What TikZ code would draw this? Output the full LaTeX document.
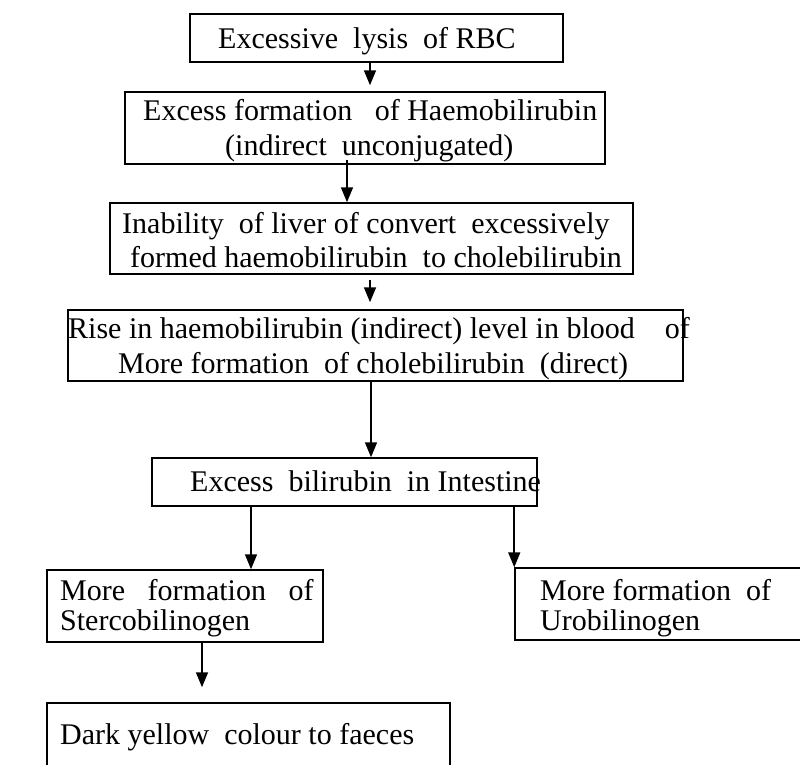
\documentclass[tikz,border=0pt]{standalone}
\usepackage{fontspec}
\setmainfont{Liberation Serif}
\usetikzlibrary{arrows.meta}
\begin{document}
\begin{tikzpicture}[x=1pt,y=-1pt,
		box/.style={draw,line width=1.5pt,inner sep=0pt},
		txt/.style={anchor=base west,inner sep=0pt,font=\fontsize{30}{35}\selectfont},
		arr/.style={line width=1.6pt,-{Triangle[width=12pt,length=15pt]}}]
	\useasboundingbox (0,0) rectangle (800,764);
	\node[box,minimum width=373pt,minimum height=48pt] (b1) at (376.5,38) {};
	\node[box,minimum width=480pt,minimum height=72pt] (b2) at (365,128) {};
	\node[box,minimum width=523pt,minimum height=71pt] (b3) at (371.5,238.5) {};
	\node[box,minimum width=615pt,minimum height=71pt] (b4) at (375.5,345.5) {};
	\node[box,minimum width=385pt,minimum height=48pt] (b5) at (344.5,482) {};
	\node[box,minimum width=276pt,minimum height=72pt] (b6) at (185,606) {};
	\node[box,minimum width=316pt,minimum height=72pt] (b7) at (673,604) {};
	\node[box,minimum width=403pt,minimum height=70pt] (b8) at (248.5,738) {};
	\node[txt] (t1) at (218,48) {Excessive\ \ lysis\ \ of RBC};
	\node[txt] (t2a) at (143,120) {Excess formation\ \ \ of Haemobilirubin};
	\node[txt] (t2b) at (225,155) {(indirect\ \ unconjugated)};
	\node[txt] (t3a) at (122,233) {Inability\ \ of liver of convert\ \ excessively};
	\node[txt] (t3b) at (130,267) {formed haemobilirubin\ \ to cholebilirubin};
	\node[txt] (t4a) at (68,338) {Rise\ in haemobilirubin (indirect)\ level in blood\ \ \ \ of};
	\node[txt] (t4b) at (118,373) {More formation\ \ of cholebilirubin\ \ (direct)};
	\node[txt] (t5) at (190,491) {Excess\ \ bilirubin\ \ in Intestine};
	\node[txt] (t6a) at (60,600) {More\ \ \ formation\ \ \ of};
	\node[txt] (t6b) at (60,630) {Stercobilinogen};
	\node[txt] (t7a) at (540,600) {More formation\ \ of};
	\node[txt] (t7b) at (540,630) {Urobilinogen};
	\node[txt] (t8) at (60,744) {Dark yellow\ \ colour\ to faeces};
	\draw[arr,shorten >=6pt] (b1.south -| 370,0) -- (b2.north -| 370,0);
	\draw[arr,shorten <=-5pt] (b2.south -| 347,0) -- (b3.north -| 347,0);
	\draw[arr,shorten <=5pt,shorten >=7pt] (b3.south -| 370,0) -- (b4.north -| 370,0);
	\draw[arr] (b4.south -| 371,0) -- (b5.north -| 371,0);
	\draw[arr] (b5.south -| 251,0) -- (b6.north -| 251,0);
	\draw[arr] (b5.south -| b7.west) -- (b7.north west);
	\draw[arr,shorten >=15pt] (b6.south -| 202,0) -- (b8.north -| 202,0);
\end{tikzpicture}
\end{document}
